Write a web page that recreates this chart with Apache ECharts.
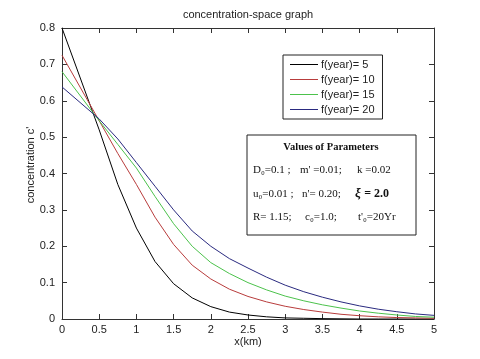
<!DOCTYPE html>
<html><head><meta charset="utf-8">
<script src="https://cdn.jsdelivr.net/npm/echarts@6/dist/echarts.min.js"></script>
<style>html,body{margin:0;padding:0;background:#fff}#c{width:480px;height:359px}</style>
</head><body><div id="c"></div>
<script>
const titleText = 'concentration-space graph';
const xLabel = 'x(km)';
const yLabel = "concentration c'";
const xTicks = [0,0.5,1,1.5,2,2.5,3,3.5,4,4.5,5];
const yTicks = [0,0.1,0.2,0.3,0.4,0.5,0.6,0.7,0.8];
const seriesNames = ['f(year)= 5','f(year)= 10','f(year)= 15','f(year)= 20'];
const xs = [0,0.5,0.75,1,1.25,1.5,1.75,2,2.25,2.5,2.75,3,3.25,3.5,3.75,4,4.25,4.5,4.75,5];
const t5  = [0.80,0.52,0.37,0.25,0.158,0.097,0.058,0.034,0.019,0.011,0.006,0.003,0.002,0.001,0.0005,0,0,0,0,0];
const t10 = [0.725,0.545,0.455,0.37,0.28,0.205,0.148,0.11,0.082,0.062,0.047,0.035,0.026,0.019,0.013,0.009,0.006,0.004,0.003,0.002];
const t15 = [0.68,0.545,0.48,0.415,0.337,0.262,0.2,0.155,0.125,0.1,0.08,0.063,0.05,0.039,0.03,0.022,0.016,0.011,0.007,0.005];
const t20 = [0.638,0.55,0.495,0.43,0.365,0.3,0.242,0.2,0.166,0.14,0.115,0.093,0.075,0.06,0.047,0.036,0.027,0.02,0.014,0.01];
const colors = ['#000000','#b83c3c','#4cc24c','#2a2a80'];

const chart = echarts.init(document.getElementById('c'));
const all = [t5,t10,t15,t20];
const series = all.map((arr,i)=>({
  name: seriesNames[i], type:'line', symbol:'none', showSymbol:false,
  data: xs.map((x,j)=>[x,arr[j]]),
  lineStyle:{color:colors[i], width:1}, itemStyle:{color:colors[i]},
  xAxisIndex:0, yAxisIndex:0, silent:true
}));
const axFont = {fontFamily:'Liberation Sans, Arial', fontSize:11, color:'#222'};
function ax(pos, showLabel, isX){
  return {
    type:'value', position:pos, min:0, max: isX?5:0.8, interval: isX?0.5:0.1,
    axisLine:{show:true, onZero:false, lineStyle:{color:'#333', width:1}},
    axisTick:{show:true, inside:true, length:5, lineStyle:{color:'#333'}},
    axisLabel: showLabel ? Object.assign({show:true, margin: isX?5:7, formatter: v => String(Math.round(v*10)/10)}, axFont) : {show:false},
    splitLine:{show:false}
  };
}
const serif = '"Liberation Serif", "Times New Roman", serif';
function pt(text, x, y){
  return {type:'text', z:11, style:{text:text, x:x, y:y, textVerticalAlign:'middle', font:'11px ' + serif, fill:'#111'}};
}
chart.setOption({
  animation:false,
  backgroundColor:'#fff',
  grid:{left:62, right:46, top:28, bottom:40, containLabel:false},
  xAxis:[ax('bottom',true,true), ax('top',false,true)],
  yAxis:[ax('left',true,false), ax('right',false,false)],
  legend:{
    show:true, orient:'vertical', left:283, top:55,
    data: seriesNames,
    itemWidth:28, itemHeight:12, itemGap:4,
    padding:[4,8,4,7],
    borderColor:'#222', borderWidth:1, backgroundColor:'#fff',
    textStyle:{fontFamily:'Liberation Sans, Arial', fontSize:11, color:'#222', padding:[0,0,0,-2]},
    icon:'path://M0,0 L28,0 L28,1 L0,1 Z',
    selectedMode:false
  },
  series: series,
  graphic:[
    {type:'text', style:{text:titleText, x:248, y:15, textAlign:'center', textVerticalAlign:'middle', font:'11px "Liberation Sans", Arial', fill:'#222'}},
    {type:'text', style:{text:xLabel, x:248, y:342, textAlign:'center', textVerticalAlign:'middle', font:'11px "Liberation Sans", Arial', fill:'#222'}},
    {type:'text', x:31, y:165, rotation:Math.PI/2, style:{text:yLabel, x:0, y:0, textAlign:'center', textVerticalAlign:'middle', font:'11px "Liberation Sans", Arial', fill:'#222'}},
    {type:'rect', shape:{x:247, y:135, width:169, height:100}, style:{fill:'#fff', stroke:'#222', lineWidth:1}, z:10},
    {type:'text', z:11, style:{text:'Values of Parameters', x:331, y:147, textAlign:'center', textVerticalAlign:'middle', font:'bold 10.5px ' + serif, fill:'#111'}},
    pt('D\u2080=0.1 ;', 253, 170),
    pt("m' =0.01;", 300, 170),
    pt('k =0.02', 357, 170),
    pt('u\u2080=0.01 ;', 253, 194),
    pt("n'= 0.20;", 302, 194),
    {type:'text', z:11, style:{text:'{a|\u03BE} {b|= 2.0}', x:355, y:194, textVerticalAlign:'middle', fill:'#111',
      rich:{a:{font:'bold italic 13px ' + serif, fill:'#111'}, b:{font:'bold 12px ' + serif, fill:'#111'}}}},
    pt('R= 1.15;', 253, 217),
    pt('c\u2080=1.0;', 305, 217),
    pt("t'\u2080=20Yr", 358, 217)
  ]
});
</script></body></html>
